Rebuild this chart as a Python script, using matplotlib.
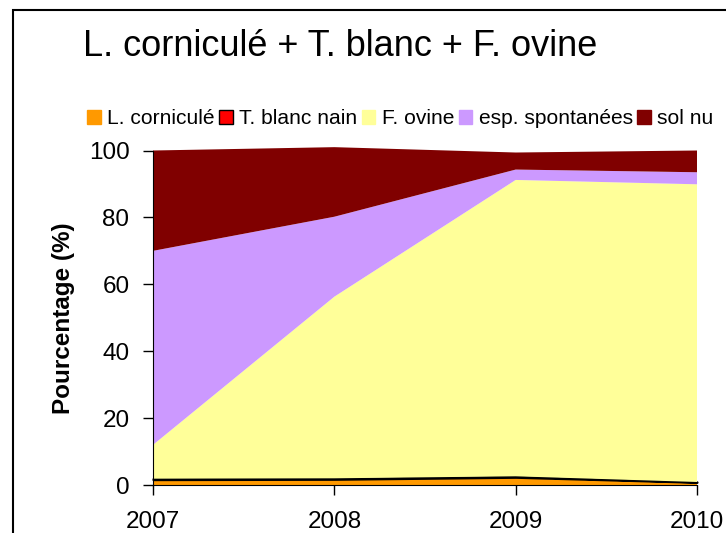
import matplotlib.pyplot as plt
from matplotlib.patches import Patch, Rectangle

plt.rcParams['font.family'] = ['Liberation Sans', 'DejaVu Sans']

# ----------------------------
# DATA
# ----------------------------
years = [2007, 2008, 2009, 2010]
l_cornicule = [1.6, 1.7, 2.3, 0.8]
t_blanc = [0.3, 0.3, 0.3, 0.1]
f_ovine = [10.1, 54.3, 88.6, 89.0]
esp_spont = [58.0, 23.9, 3.1, 3.6]
sol_nu = [30.0, 20.8, 5.1, 6.5]

labels = ['L. corniculé', 'T. blanc nain', 'F. ovine', 'esp. spontanées', 'sol nu']
colors = ['#FF9900', '#FF0000', '#FFFF99', '#CC99FF', '#800000']
edges = ['none', 'black', 'none', 'none', 'none']

# ----------------------------
# PLOT
# ----------------------------
fig = plt.figure(figsize=(7.26, 5.33), dpi=100)
ax = fig.add_axes([153 / 726, 1 - 485 / 533, 544 / 726, 334.5 / 533])

series = [l_cornicule, t_blanc, f_ovine, esp_spont, sol_nu]
polys = ax.stackplot(years, *series, colors=colors)
for p, ec in zip(polys, edges):
    p.set_clip_on(False)
    if ec != 'none':
        p.set_edgecolor(ec)
        p.set_linewidth(1.5)

ax.set_xlim(2007, 2010)
ax.set_ylim(0, 100)
ax.set_xticks(years)
ax.set_yticks(range(0, 101, 20))
ax.tick_params(axis='both', direction='out', length=7, width=1, labelsize=17.5)
ax.tick_params(axis='y', pad=10)
ax.tick_params(axis='x', pad=12)
ax.spines['top'].set_visible(False)
ax.spines['right'].set_visible(False)
ax.set_ylabel('Pourcentage (%)', fontsize=17.5, fontweight='bold', labelpad=10)

fig.text(83 / 726, 1 - 46 / 533, 'L. corniculé + T. blanc + F. ovine',
         fontsize=26, ha='left', va='center')

handles = [Patch(facecolor=c, edgecolor=('black' if e != 'none' else c), label=l)
           for c, e, l in zip(colors, edges, labels)]
fig.legend(handles=handles, loc='center left', bbox_to_anchor=(87 / 726, 1 - 119 / 533),
           ncol=5, frameon=False, fontsize=15.1, handlelength=0.65, handleheight=0.65,
           handletextpad=0.3, columnspacing=0.22, borderaxespad=0, borderpad=0)

# chart border (cropped on the right and bottom)
fig.patches.append(Rectangle((13 / 726, -0.1), 1.2, 1 - 10 / 533 + 0.1,
                             transform=fig.transFigure, fill=False,
                             edgecolor='black', linewidth=1.5))

fig.savefig('out.png', dpi=100)
